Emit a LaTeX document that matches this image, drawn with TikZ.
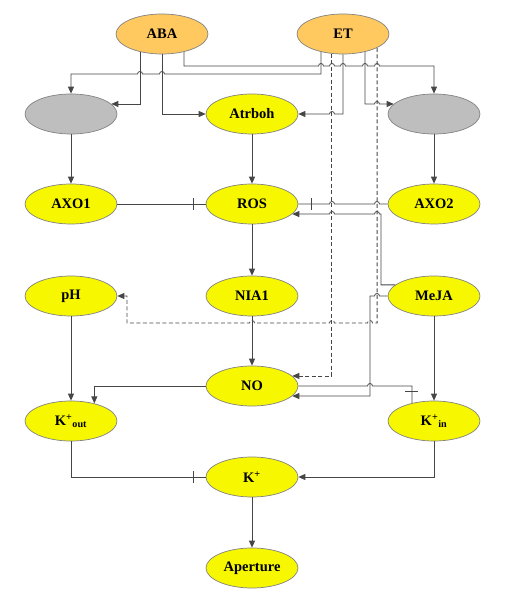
\documentclass[tikz,border=0pt]{standalone}
\usepackage{fontspec}
\setmainfont{Liberation Serif}
\usetikzlibrary{shapes.geometric,arrows.meta}

\definecolor{hormcol}{RGB}{255,201,95}
\definecolor{genecol}{RGB}{247,247,0}
\definecolor{greycol}{RGB}{190,190,190}
\definecolor{rimcol}{RGB}{130,130,130}
\definecolor{linecol}{RGB}{70,70,70}

\newcommand{\jumpr}[2]{-- (#1-2.5,#2) arc[start angle=180,end angle=0,radius=2.5]}
\newcommand{\jumpl}[2]{-- (#1+2.5,#2) arc[start angle=0,end angle=180,radius=2.5]}

\tikzset{
	blob/.style={ellipse, draw=rimcol, line width=0.7pt, minimum width=92pt, minimum height=40pt, inner sep=0pt, font=\fontsize{14.5}{16}\selectfont\bfseries},
	hormone/.style={blob, fill=hormcol},
	gene/.style={blob, fill=genecol},
	unknown/.style={blob, fill=greycol},
	link/.style={draw=linecol, line width=0.8pt},
	arr/.style={-{Triangle[length=7pt,width=6pt]}},
	dashlink/.style={link, dash pattern=on 4pt off 2.5pt}
}

\begin{document}
\begin{tikzpicture}[x=1pt,y=1pt]

			\useasboundingbox (0,0) rectangle (507,598);

			\node [hormone] (ABA) at (162,564) {ABA};
			\node [hormone] (ET) at (343,564) {ET};

			\node [unknown] (grayL) at (71,484) {};
			\node [gene] (Atrboh) at (252,484) {Atrboh};
			\node [unknown] (grayR) at (434,484) {};

			\node [gene] (AXO1) at (71,394) {AXO1};
			\node [gene] (ROS) at (252,394) {ROS};
			\node [gene] (AXO2) at (434,394) {AXO2};

			\node [gene] (pH) at (71,302) {pH};
			\node [gene] (NIA1) at (252,302) {NIA1};
			\node [gene] (MeJA) at (434,302) {MeJA};

			\node [gene] (NO) at (252,212) {NO};
			\node [gene] (Kout) at (71,177) {K\textsuperscript{+}\textsubscript{out}};
			\node [gene] (Kin) at (434,177) {K\textsuperscript{+}\textsubscript{in}};

			\node [gene] (K) at (252,121) {K\textsuperscript{+}};
			\node [gene] (Aperture) at (252,30) {Aperture};

			\draw [link,arr] (ABA.-141) |- (grayL.14);
			\draw [link,arr] (ABA.south) |- (Atrboh.west);
			\draw [link,arr] (ABA.-39) -- (ABA.-39 |- 0,532) \jumpr{321}{532} \jumpr{332}{532} \jumpr{343}{532} \jumpr{365}{532} \jumpr{377}{532} -| (grayR.north);

			\draw [link,arr] (ET.-141) -- (ET.-141 |- 0,524) \jumpl{162}{524} \jumpl{140}{524} -| (grayL.north);
			\draw [link,arr] (ET.south) -- (ET.south |- 0,484) \jumpl{332}{484} -- (Atrboh.east);
			\draw [link,arr] (ET.-39) -- (ET.-39 |- 0,494) \jumpr{377}{494} -- (grayR.166);

			\draw [dashlink,arr] (ET.-120) |- (NO.14);
			\draw [dashlink,arr] (ET.-22) -- (ET.-22 |- 0,275) \jumpl{370}{275} \jumpl{332}{275} \jumpl{252}{275} -- (127,275) |- (pH.east);

			\foreach \a/\b in {grayL/AXO1, Atrboh/ROS, grayR/AXO2, ROS/NIA1, NIA1/NO, pH/Kout, MeJA/Kin, K/Aperture} {\draw [link,arr] (\a) -- (\b);}

			\draw [link] (AXO1) -- (ROS);
			\draw [link] ([xshift=-12pt]ROS.west) ++(0,-6) -- ++(0,12);
			\draw [link] (AXO2.west) \jumpl{377}{394} \jumpl{332}{394} -- (ROS.east);
			\draw [link] ([xshift=13pt]ROS.east) ++(0,-6) -- ++(0,12);

			\draw [link,arr] (MeJA.164) -| (381,384) \jumpl{377}{384} \jumpl{332}{384} -- (ROS.-14);
			\draw [link,arr] (MeJA.west) \jumpl{377}{302} -- (370,302) |- (NO.-14);

			\draw [link,arr] (NO.west) -| (Kout.37);
			\draw [link] (NO.east) \jumpr{370}{212} -| (Kin.141);
			\draw [link] ([yshift=12pt]Kin.141) ++(-6.5,0) -- ++(13,0);

			\draw [link] (Kout.south) |- (K.west);
			\draw [link] ([xshift=-12pt]K.west) ++(0,-6) -- ++(0,12);
			\draw [link,arr] (Kin.south) |- (K.east);
		\end{tikzpicture}
\end{document}
